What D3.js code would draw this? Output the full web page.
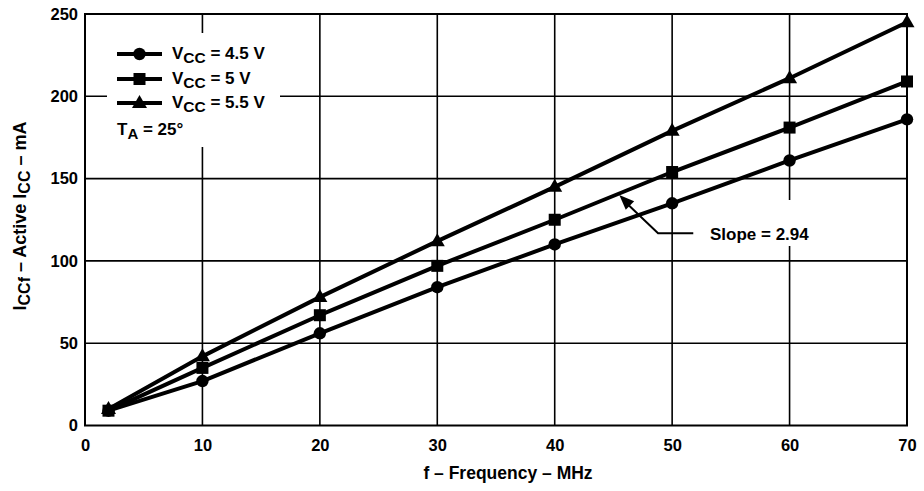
<!DOCTYPE html>
<html>
<head>
<meta charset="utf-8">
<script src="https://cdn.jsdelivr.net/npm/d3@7"></script>
<style>
  html, body { margin: 0; padding: 0; background: #fff; }
  svg { display: block; }
  text { font-family: "Liberation Sans", Arial, Helvetica, sans-serif; font-weight: bold; fill: #000; }
</style>
</head>
<body>
<svg id="chart" width="924" height="491"></svg>
<script>
// Frequency points (MHz)
const frequency = [2, 10, 20, 30, 40, 50, 60, 70];
// Active supply current (mA) for each supply voltage
const icc45 = [9, 27, 56, 84, 110, 135, 161, 186];
const icc50 = [9, 35, 67, 97, 125, 154, 181, 209];
const icc55 = [10, 42, 78, 112, 145, 179, 211, 245];
const seriesNames = ["4.5 V", "5 V", "5.5 V"];
const seriesShapes = ["circle", "square", "triangle"];
const xTicks = [0, 10, 20, 30, 40, 50, 60, 70];
const yTicks = [0, 50, 100, 150, 200, 250];
const slopeLabel = "Slope = 2.94";

const svg = d3.select("#chart");
const x = d3.scaleLinear().domain([0, 70]).range([85, 907]);
const y = d3.scaleLinear().domain([0, 250]).range([425.5, 14]);

// Grid
const grid = svg.append("g").attr("stroke", "#000").attr("stroke-width", 1.6);
grid.selectAll("line.vx").data(xTicks.slice(1, -1)).join("line")
  .attr("x1", d => x(d)).attr("x2", d => x(d))
  .attr("y1", y(0)).attr("y2", y(250));
grid.selectAll("line.hy").data(yTicks.slice(1, -1)).join("line")
  .attr("x1", x(0)).attr("x2", x(70))
  .attr("y1", d => y(d)).attr("y2", d => y(d));

// Frame
svg.append("rect")
  .attr("x", x(0)).attr("y", y(250))
  .attr("width", x(70) - x(0)).attr("height", y(0) - y(250))
  .attr("fill", "none").attr("stroke", "#000").attr("stroke-width", 2);

// Axes labels
const xAxis = d3.axisBottom(x).tickValues(xTicks).tickSize(0).tickPadding(14);
svg.append("g").attr("transform", `translate(0,${y(0)})`).call(xAxis)
  .call(g => g.select(".domain").remove())
  .selectAll("text").attr("font-size", 16.5).attr("font-family", null).attr("fill", "#000");
const yAxis = d3.axisLeft(y).tickValues(yTicks).tickSize(0).tickPadding(7);
svg.append("g").attr("transform", `translate(${x(0)},0)`).call(yAxis)
  .call(g => g.select(".domain").remove())
  .selectAll("text").attr("font-size", 16.5).attr("font-family", null).attr("fill", "#000");

// Legend background
svg.append("rect").attr("x", 107).attr("y", 33).attr("width", 173).attr("height", 114).attr("fill", "#fff");

// Annotation background
svg.append("rect").attr("x", 702).attr("y", 200).attr("width", 118).attr("height", 46).attr("fill", "#fff");

// Series
const data = [icc45, icc50, icc55];
const line = d3.line().x((d, i) => x(frequency[i])).y(d => y(d));

function drawMarker(g, shape, cx, cy) {
  if (shape === "circle") {
    g.append("circle").attr("cx", cx).attr("cy", cy).attr("r", 6.2).attr("fill", "#000");
  } else if (shape === "square") {
    g.append("rect").attr("x", cx - 6).attr("y", cy - 6).attr("width", 12).attr("height", 12).attr("fill", "#000");
  } else {
    g.append("path").attr("d", `M${cx},${cy - 8}L${cx + 7.5},${cy + 5}L${cx - 7.5},${cy + 5}Z`).attr("fill", "#000");
  }
}

data.forEach((vals, si) => {
  const g = svg.append("g");
  g.append("path").attr("d", line(vals)).attr("fill", "none")
    .attr("stroke", "#000").attr("stroke-width", 4).attr("stroke-linejoin", "round");
  vals.forEach((v, i) => drawMarker(g, seriesShapes[si], x(frequency[i]), y(v)));
});

// Legend
const legendRows = [54, 79, 103];
seriesNames.forEach((name, i) => {
  const g = svg.append("g");
  g.append("line").attr("x1", 117).attr("x2", 162).attr("y1", legendRows[i]).attr("y2", legendRows[i])
    .attr("stroke", "#000").attr("stroke-width", 4);
  drawMarker(g, seriesShapes[i], 139.5, legendRows[i]);
  const t = g.append("text").attr("x", 172).attr("y", legendRows[i] + 5).attr("font-size", 17);
  t.append("tspan").text("V");
  t.append("tspan").attr("dy", 4).attr("font-size", 15.5).text("CC");
  t.append("tspan").attr("dy", -4).text(" = " + name);
});
const ta = svg.append("text").attr("x", 117).attr("y", 135).attr("font-size", 17);
ta.append("tspan").text("T");
ta.append("tspan").attr("dy", 4).attr("font-size", 15).text("A");
ta.append("tspan").attr("dy", -4).text(" = 25°");

// Slope annotation
const tipX = x(45.5), tipY = y(140);
const elbowX = x(48.8), elbowY = y(116.8);
const endX = x(51.8);
svg.append("path")
  .attr("d", `M${endX},${elbowY}L${elbowX},${elbowY}L${tipX + 6},${tipY + 7}`)
  .attr("fill", "none").attr("stroke", "#000").attr("stroke-width", 2);
{
  const ang = Math.atan2(tipY - elbowY, tipX - elbowX);
  const len = 15, half = 6;
  const bx = tipX - len * Math.cos(ang), by = tipY - len * Math.sin(ang);
  const px = -Math.sin(ang) * half, py = Math.cos(ang) * half;
  svg.append("path")
    .attr("d", `M${tipX},${tipY}L${bx + px},${by + py}L${bx - px},${by - py}Z`)
    .attr("fill", "#000");
}
svg.append("text").attr("x", 710).attr("y", 240).attr("font-size", 17).text(slopeLabel);

// Axis titles
svg.append("text").attr("x", 508).attr("y", 479).attr("text-anchor", "middle").attr("font-size", 17.5)
  .text("f – Frequency – MHz");
const yt = svg.append("text").attr("transform", "translate(26,216) rotate(-90)")
  .attr("text-anchor", "middle").attr("font-size", 18);
yt.append("tspan").text("I");
yt.append("tspan").attr("dy", 4).attr("font-size", 16).text("CCf");
yt.append("tspan").attr("dy", -4).text("  – Active I");
yt.append("tspan").attr("dy", 4).attr("font-size", 16).text("CC");
yt.append("tspan").attr("dy", -4).text(" – mA");
</script>
</body>
</html>
